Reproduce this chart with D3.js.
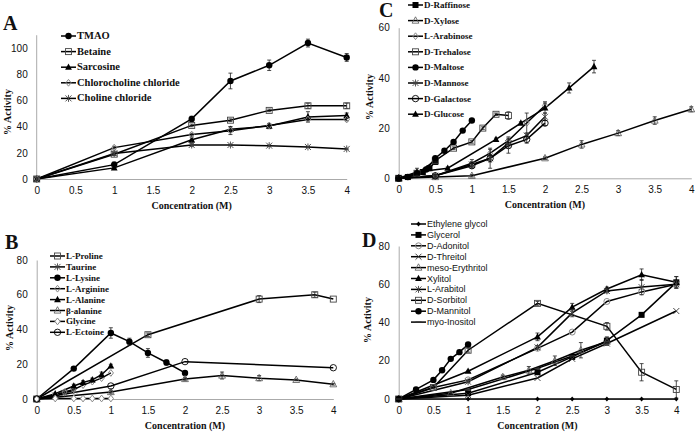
<!DOCTYPE html>
<html>
<head>
<meta charset="utf-8">
<script src="https://cdn.jsdelivr.net/npm/d3@7"></script>
<style>
  body { margin: 0; background: #fff; }
  .tick text { font-family: "Liberation Sans", Arial, sans-serif; font-size: 10px; fill: #111; }
  .ttl { font-family: "Liberation Serif", "Times New Roman", serif; font-weight: bold; font-size: 10px; fill: #111; }
  .plab { font-family: "Liberation Serif", "Times New Roman", serif; font-weight: bold; font-size: 20px; fill: #111; }
</style>
</head>
<body>
<div id="chart"></div>
<script>
// ---------- data ----------
var xTicks = [0, 0.5, 1, 1.5, 2, 2.5, 3, 3.5, 4]

// panel A
var aNames = ['TMAO', 'Betaine', 'Sarcosine', 'Chlorocholine chloride', 'Choline chloride']
var aMarkers = ['circleF', 'squareO', 'triF', 'diamondG', 'star']
var aX = [0, 1, 2, 2.5, 3, 3.5, 4]
var aTMAO = [0, 11, 46, 75, 87, 104, 93]
var aTMAOerr = [0, 2, 2, 6, 4, 3, 3]
var aBetaine = [0, 19, 41, 45, 52.5, 56, 56]
var aBetaineErr = [0, 1, 1, 1, 1, 2, 2]
var aSarcosine = [0, 8.5, 30, 38, 40.5, 47.5, 48.5]
var aSarcosineErr = [0, 1, 2, 2, 2, 4, 2]
var aChloro = [0, 24, 34, 37, 41, 45.5, 45.5]
var aChloroErr = [0, 1, 1, 3, 1, 1, 1]
var aCholine = [0, 19.5, 26, 26, 25.5, 24.5, 23]
var aCholineErr = [0, 1, 1, 0.5, 0.5, 0.5, 0.5]

// panel B
var bNames = ['L-Proline', 'Taurine', 'L-Lysine', 'L-Arginine', 'L-Alanine', 'β-alanine', 'Glycine', 'L-Ectoine']
var bMarkers = ['squareO', 'star', 'circleF', 'diamondG', 'triF', 'triO', 'diamondO', 'circleO']
var bProlineX = [0, 1.5, 3, 3.75, 4]
var bProline = [0, 37, 57.5, 60, 57.5]
var bProlineErr = [0, 1, 2, 1.5, 0]
var bTaurineX = [0, 0.25, 0.375, 0.5]
var bTaurine = [0, 2, 3.5, 5]
var bLysineX = [0, 0.5, 1, 1.25, 1.5, 1.75, 2]
var bLysine = [0, 17.5, 38, 33, 26.5, 21, 15]
var bLysineErr = [0, 1, 3, 2, 2.5, 1.5, 1]
var bArginineX = [0, 0.25, 0.375, 0.5, 0.625, 0.75, 0.875, 1]
var bArginine = [0, 2.5, 4, 5.5, 8, 10, 12, 15]
var bAlanineX = [0, 0.25, 0.5, 0.625, 0.75, 0.875, 1]
var bAlanine = [0, 3, 7.5, 9.5, 11, 14, 19]
var bAlanineErr = [0, 0.5, 1, 1, 1, 1.5, 1]
var bBetaAlaX = [0, 1, 2, 2.5, 3, 3.5, 4]
var bBetaAla = [0, 4, 11.5, 13.5, 12, 11, 8.5]
var bBetaAlaErr = [0, 1, 1, 2, 1.5, 0.5, 0.5]
var bGlycineX = [0, 0.25, 0.5, 0.625, 0.75, 0.875, 1]
var bGlycine = [0, 0.3, 0.3, 0.3, 0.3, 0.3, 0.3]
var bEctoineX = [0, 1, 2, 4]
var bEctoine = [0, 7.5, 21.5, 18]

// panel C
var cNames = ['D-Raffinose', 'D-Xylose', 'L-Arabinose', 'D-Trehalose', 'D-Maltose', 'D-Mannose', 'D-Galactose', 'D-Glucose']
var cMarkers = ['squareF', 'triO', 'diamondG', 'squareO', 'circleF', 'star', 'circleO', 'triF']
var cRaffinoseX = [0, 0.125, 0.25, 0.33, 0.42, 0.5]
var cRaffinose = [0, 0.5, 1.5, 2.5, 4, 6.5]
var cXyloseX = [0, 0.5, 1, 2, 2.5, 3, 3.5, 4]
var cXylose = [0, 0.5, 1, 8, 13.5, 18, 23, 27.5]
var cXyloseErr = [0, 0.5, 0.5, 0.5, 1.5, 1, 1.5, 1]
var cArabinoseX = [0, 0.5, 1, 1.25, 1.5, 1.75, 2]
var cArabinose = [0, 1, 6, 10, 15, 22, 29]
var cArabinoseErr = [0, 0.5, 1.5, 1.5, 1.5, 4, 1.5]
var cTrehaloseX = [0, 0.25, 0.5, 0.75, 1, 1.15, 1.33, 1.5]
var cTrehalose = [0, 2, 7, 12, 14.5, 20, 25.5, 25]
var cTrehaloseErr = [0, 0.5, 0.5, 0.5, 0.5, 0.5, 0.5, 1.5]
var cMaltoseX = [0, 0.125, 0.25, 0.375, 0.5, 0.625, 0.75, 0.875, 1]
var cMaltose = [0, 0.5, 2, 3.5, 8, 11, 14.5, 19, 23]
var cMannoseX = [0, 0.5, 1, 1.25, 1.5, 1.75, 2]
var cMannose = [0, 1, 5.5, 8, 14, 17, 24.5]
var cMannoseErr = [0, 0.5, 1, 4, 1.5, 1, 1.5]
var cGalactoseX = [0, 0.5, 1, 1.25, 1.5, 1.75, 2]
var cGalactose = [0, 1, 5, 8, 13, 15.5, 22]
var cGalactoseErr = [0, 0.5, 1, 1.5, 3, 1.5, 1]
var cGlucoseX = [0, 0.25, 0.67, 1.33, 1.67, 2, 2.33, 2.67]
var cGlucose = [0, 2.5, 4, 15.5, 22, 28, 36, 44.5]
var cGlucoseErr = [0, 1.5, 0.5, 0.5, 0.5, 2, 2, 2.5]

// panel D
var dNames = ['Ethylene glycol', 'Glycerol', 'D-Adonitol', 'D-Threitol', 'meso-Erythritol', 'Xylitol', 'L-Arabitol', 'D-Sorbitol', 'D-Mannitol', 'myo-Inositol']
var dMarkers = ['diamondF', 'squareF', 'circleG', 'cross', 'triO', 'triF', 'star', 'squareO', 'circleF', 'dash']
var dX = [0, 1, 2, 2.5, 3, 3.5, 4]
var dEthylene = [0, 0, 0, 0, 0, 0, 0]
var dGlycerol = [0, 3, 14, 22, 30.5, 44, 61]
var dGlycerolErr = [0, 0.5, 1, 1, 2, 1, 3]
var dAdonitolX = [0, 0.5, 1, 2, 2.5, 3, 3.5, 4]
var dAdonitol = [0, 6, 10, 26.5, 35, 51, 56, 60]
var dThreitolX = [0, 1, 2, 2.5, 3, 4]
var dThreitol = [0, 2, 11, 21, 29, 46]
var dErythritolX = [0, 0.75, 1.5, 1.875, 2.25, 2.625, 3]
var dErythritol = [0, 3, 11.5, 15, 20, 25.5, 30]
var dErythritolErr = [0, 0.5, 1, 2, 2.5, 4, 2]
var dXylitol = [0, 14.5, 32.5, 48, 57.5, 65, 61]
var dXylitolErr = [0, 0.5, 2, 2, 1, 3, 3]
var dArabitol = [0, 9, 27, 45, 56.5, 58.5, 60]
var dArabitolErr = [0, 0.5, 1, 2, 1, 4, 2]
var dSorbitolX = [0, 0.5, 1, 2, 3, 3.5, 4]
var dSorbitol = [0, 6, 25.5, 50, 38, 14, 5]
var dSorbitolErr = [0, 0.5, 1, 1, 2, 4.5, 4.5]
var dMannitolX = [0, 0.25, 0.5, 0.625, 0.75, 0.875, 1]
var dMannitol = [0, 5, 10, 15, 21, 24.5, 28.5]
var dInositolX = [0, 1, 2, 2.5, 3]
var dInositol = [0, 5, 16, 22.5, 30]

// ---------- drawing ----------
var W = 697, H = 434
var svg = d3.select('#chart').append('svg').attr('width', W).attr('height', H)

function ser(x, y, err) {
    return x.map((d, i) => ({ x: d, y: y[i], e: err ? err[i] : 0 }))
}

function drawMarker(g, type, cx, cy) {
    var s = 3
    var k = g.append('g').attr('transform', 'translate(' + cx + ',' + cy + ')')
    var black = '#000', gray = '#888'
    if (type == 'circleF') k.append('circle').attr('r', 3.2).attr('fill', black)
    if (type == 'circleO') k.append('circle').attr('r', 3.2).attr('fill', 'none').attr('stroke', black).attr('stroke-width', 0.9)
    if (type == 'circleG') k.append('circle').attr('r', 3).attr('fill', 'none').attr('stroke', gray).attr('stroke-width', 1)
    if (type == 'squareF') k.append('rect').attr('x', -s).attr('y', -s).attr('width', 2 * s).attr('height', 2 * s).attr('fill', black)
    if (type == 'squareO') k.append('rect').attr('x', -s).attr('y', -s).attr('width', 2 * s).attr('height', 2 * s).attr('fill', 'none').attr('stroke', '#444').attr('stroke-width', 0.9)
    if (type == 'triF') k.append('path').attr('d', 'M0,-3.8L3.4,2.6L-3.4,2.6Z').attr('fill', black)
    if (type == 'triO') k.append('path').attr('d', 'M0,-3.8L3.4,2.6L-3.4,2.6Z').attr('fill', 'none').attr('stroke', '#555').attr('stroke-width', 0.8)
    if (type == 'diamondG') k.append('path').attr('d', 'M0,-3.4L2.6,0L0,3.4L-2.6,0Z').attr('fill', 'none').attr('stroke', gray).attr('stroke-width', 1)
    if (type == 'diamondO') k.append('path').attr('d', 'M0,-3.4L2.6,0L0,3.4L-2.6,0Z').attr('fill', '#fff').attr('stroke', gray).attr('stroke-width', 1)
    if (type == 'diamondF') k.append('path').attr('d', 'M0,-2.6L2.2,0L0,2.6L-2.2,0Z').attr('fill', black)
    if (type == 'star') {
        k.append('path').attr('d', 'M-3,-3L3,3M-3,3L3,-3M0,-3.5L0,3.5').attr('stroke', '#444').attr('stroke-width', 0.9)
    }
    if (type == 'cross') k.append('path').attr('d', 'M-3,-3L3,3M-3,3L3,-3').attr('stroke', '#333').attr('stroke-width', 0.9)
    if (type == 'dash') k.append('path').attr('d', 'M-3,0L3,0').attr('stroke', '#333').attr('stroke-width', 1.2)
}

function drawPanel(p) {
    var x = d3.scaleLinear().domain([0, 4]).range([p.x0, p.x1])
    var y = d3.scaleLinear().domain([0, p.ymax]).range([p.y0, p.y1])
    var g = svg.append('g')

    // axes
    var gx = g.append('g').attr('transform', 'translate(0,' + p.y0 + ')')
        .call(d3.axisBottom(x).tickValues(xTicks).tickSize(0).tickPadding(8).tickFormat(d3.format('')))
    var gy = g.append('g').attr('transform', 'translate(' + p.x0 + ',0)')
        .call(d3.axisLeft(y).tickValues(p.yTicks).tickSize(0).tickPadding(9))
    if (p.yTop) gy.select('.domain').attr('d', 'M0,' + p.y0 + 'V' + y(p.yTop))
    gx.selectAll('.domain').attr('stroke', '#aaa')
    gy.selectAll('.domain').attr('stroke', '#aaa')

    var line = d3.line().x(d => x(d.x)).y(d => y(d.y))
    p.series.forEach(s => {
        g.append('path').datum(s.data).attr('d', line).attr('fill', 'none').attr('stroke', '#000').attr('stroke-width', 1.5)
    })
    p.series.forEach(s => {
        s.data.forEach(d => {
            if (d.e > 0) {
                var cx = x(d.x), ya = y(d.y + d.e), yb = y(d.y - d.e)
                g.append('path').attr('d', 'M' + cx + ',' + ya + 'V' + yb + 'M' + (cx - 2) + ',' + ya + 'H' + (cx + 2) + 'M' + (cx - 2) + ',' + yb + 'H' + (cx + 2))
                    .attr('stroke', '#222').attr('stroke-width', 0.8).attr('fill', 'none')
            }
        })
        s.data.forEach(d => drawMarker(g, s.marker, x(d.x), y(d.y)))
    })

    // legend
    p.names.forEach((n, i) => {
        var ly = p.ly + i * p.lstep
        g.append('line').attr('x1', p.lx).attr('x2', p.lx + 15).attr('y1', ly).attr('y2', ly).attr('stroke', '#000').attr('stroke-width', 1.5)
        drawMarker(g, p.markers[i], p.lx + 7.5, ly)
        g.append('text').attr('x', p.lx + 16).attr('y', ly + 3).text(n)
            .style('font-family', p.sans ? '"Liberation Sans", Arial, sans-serif' : '"Liberation Serif", "Times New Roman", serif')
            .style('font-weight', p.sans ? 'normal' : 'bold')
            .style('font-size', p.lfont + 'px').style('fill', '#111')
    })

    g.append('text').attr('class', 'ttl').attr('x', (p.x0 + p.x1) / 2).attr('y', p.y0 + 30).attr('text-anchor', 'middle').text('Concentration (M)')
    g.append('text').attr('class', 'ttl').attr('transform', 'translate(' + p.ylx + ',' + p.yly + ') rotate(-90)').attr('text-anchor', 'middle').text('% Activity')
    g.append('text').attr('class', 'plab').attr('x', p.px).attr('y', p.py).text(p.label)
}

drawPanel({
    label: 'A', px: 3, py: 30, x0: 36.7, x1: 346.7, y0: 179, y1: 48.3, ymax: 100, yTop: 110,
    yTicks: [0, 20, 40, 60, 80, 100], ylx: 11, yly: 112, lx: 61, ly: 36, lstep: 15.6, lfont: 10.5,
    names: aNames, markers: aMarkers,
    series: [
        { marker: 'circleF', data: ser(aX, aTMAO, aTMAOerr) },
        { marker: 'squareO', data: ser(aX, aBetaine, aBetaineErr) },
        { marker: 'triF', data: ser(aX, aSarcosine, aSarcosineErr) },
        { marker: 'diamondG', data: ser(aX, aChloro, aChloroErr) },
        { marker: 'star', data: ser(aX, aCholine, aCholineErr) }
    ]
})

drawPanel({
    label: 'B', px: 5, py: 249, x0: 36.7, x1: 333.3, y0: 399, y1: 260, ymax: 80,
    yTicks: [0, 20, 40, 60, 80], ylx: 13, yly: 328, lx: 50, ly: 256, lstep: 10.9, lfont: 9,
    names: bNames, markers: bMarkers,
    series: [
        { marker: 'squareO', data: ser(bProlineX, bProline, bProlineErr) },
        { marker: 'star', data: ser(bTaurineX, bTaurine) },
        { marker: 'circleF', data: ser(bLysineX, bLysine, bLysineErr) },
        { marker: 'diamondG', data: ser(bArginineX, bArginine) },
        { marker: 'triF', data: ser(bAlanineX, bAlanine, bAlanineErr) },
        { marker: 'triO', data: ser(bBetaAlaX, bBetaAla, bBetaAlaErr) },
        { marker: 'diamondO', data: ser(bGlycineX, bGlycine) },
        { marker: 'circleO', data: ser(bEctoineX, bEctoine) }
    ]
})

drawPanel({
    label: 'C', px: 379, py: 17, x0: 398.7, x1: 691.3, y0: 178.3, y1: 27.7, ymax: 60,
    yTicks: [0, 20, 40, 60], ylx: 373, yly: 97, lx: 408, ly: 5, lstep: 15.6, lfont: 9,
    names: cNames, markers: cMarkers,
    series: [
        { marker: 'squareF', data: ser(cRaffinoseX, cRaffinose) },
        { marker: 'triO', data: ser(cXyloseX, cXylose, cXyloseErr) },
        { marker: 'diamondG', data: ser(cArabinoseX, cArabinose, cArabinoseErr) },
        { marker: 'squareO', data: ser(cTrehaloseX, cTrehalose, cTrehaloseErr) },
        { marker: 'circleF', data: ser(cMaltoseX, cMaltose) },
        { marker: 'star', data: ser(cMannoseX, cMannose, cMannoseErr) },
        { marker: 'circleO', data: ser(cGalactoseX, cGalactose, cGalactoseErr) },
        { marker: 'triF', data: ser(cGlucoseX, cGlucose, cGlucoseErr) }
    ]
})

drawPanel({
    label: 'D', px: 362, py: 247, x0: 398.7, x1: 676.3, y0: 399, y1: 246, ymax: 80,
    yTicks: [0, 20, 40, 60, 80], ylx: 371, yly: 320, lx: 411, ly: 224, lstep: 10.9, sans: true, lfont: 9,
    names: dNames, markers: dMarkers,
    series: [
        { marker: 'diamondF', data: ser(dX, dEthylene) },
        { marker: 'squareF', data: ser(dX, dGlycerol, dGlycerolErr) },
        { marker: 'circleG', data: ser(dAdonitolX, dAdonitol) },
        { marker: 'cross', data: ser(dThreitolX, dThreitol) },
        { marker: 'triO', data: ser(dErythritolX, dErythritol, dErythritolErr) },
        { marker: 'triF', data: ser(dX, dXylitol, dXylitolErr) },
        { marker: 'star', data: ser(dX, dArabitol, dArabitolErr) },
        { marker: 'squareO', data: ser(dSorbitolX, dSorbitol, dSorbitolErr) },
        { marker: 'circleF', data: ser(dMannitolX, dMannitol) },
        { marker: 'dash', data: ser(dInositolX, dInositol) }
    ]
})
</script>
</body>
</html>
